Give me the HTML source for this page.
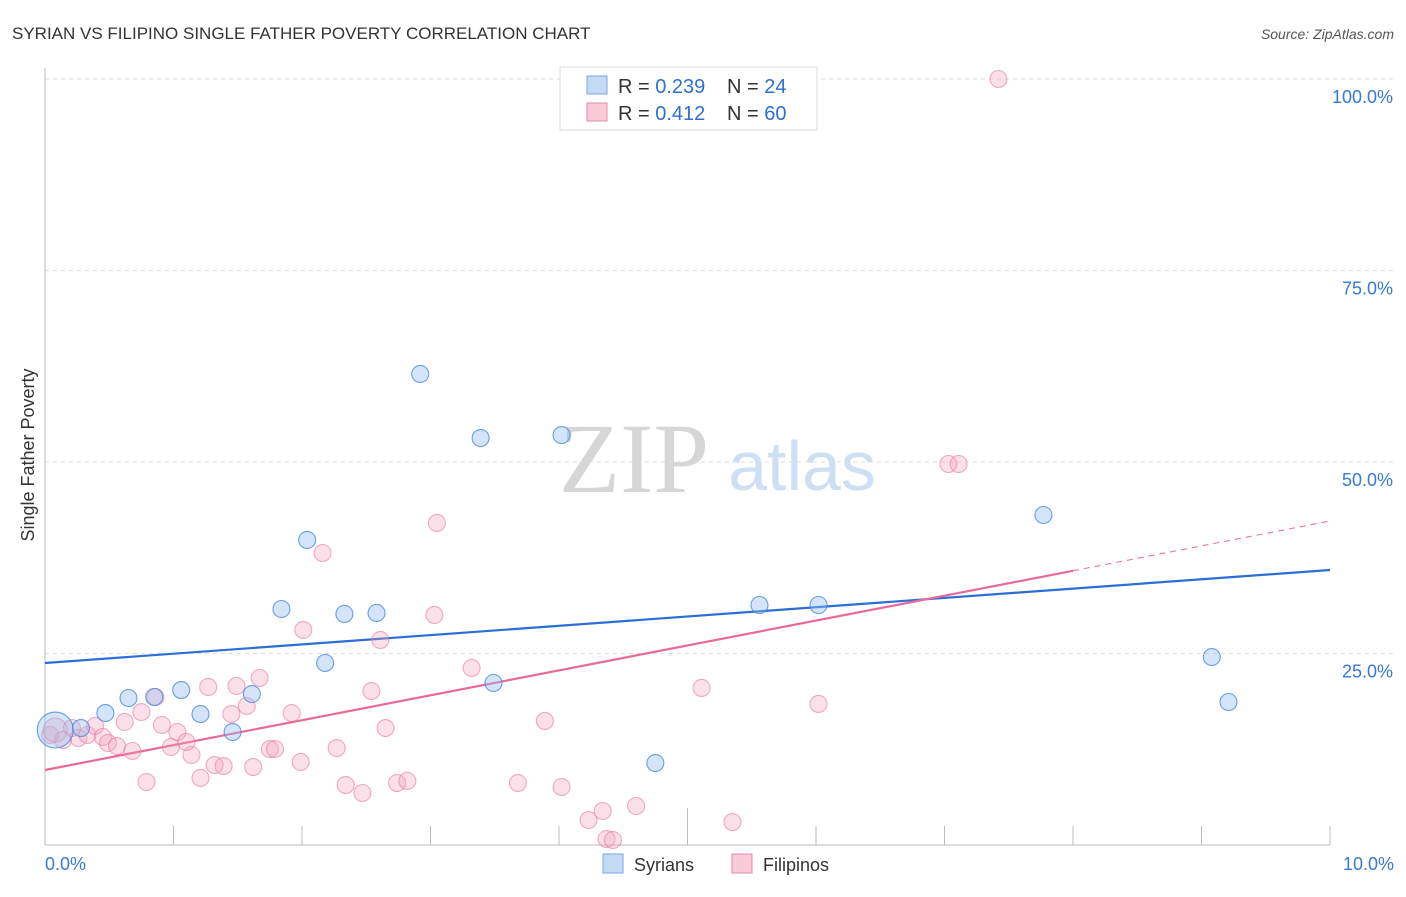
<!DOCTYPE html>
<html><head><meta charset="utf-8"><style>
body{margin:0;background:#fff;font-family:"Liberation Sans",sans-serif;}
</style></head><body>
<svg width="1406" height="892" viewBox="0 0 1406 892" id="chart" font-family="Liberation Sans, sans-serif">
<text x="12" y="39" font-size="17" fill="#333">SYRIAN VS FILIPINO SINGLE FATHER POVERTY CORRELATION CHART</text>
<text x="1394" y="39" font-size="14" fill="#555" font-style="italic" text-anchor="end">Source: ZipAtlas.com</text>
<text x="634" y="492" font-size="100" fill="#d6d6d6" style="font-family:'Liberation Serif',serif" text-anchor="middle">ZIP</text>
<text x="802" y="490" font-size="70" fill="#cfdff3" text-anchor="middle">atlas</text>
<text transform="translate(34,455) rotate(-90)" font-size="18" fill="#333" text-anchor="middle">Single Father Poverty</text>
<g id="grid"></g><g id="axes"></g><g id="trend"></g><g id="pts"></g>
<g>
<rect x="560" y="67" width="257" height="63" fill="#fff" stroke="#ddd"/>
<rect x="587" y="76" width="20" height="18" fill="#c5daf5" stroke="#7aa6e0"/>
<text x="618" y="93" font-size="20" fill="#333">R = <tspan fill="#2f6fd0">0.239</tspan></text>
<text x="727" y="93" font-size="20" fill="#333">N = <tspan fill="#2f6fd0">24</tspan></text>
<rect x="587" y="103" width="20" height="18" fill="#f9cad8" stroke="#e88aa8"/>
<text x="618" y="120" font-size="20" fill="#333">R = <tspan fill="#2f6fd0">0.412</tspan></text>
<text x="727" y="120" font-size="20" fill="#333">N = <tspan fill="#2f6fd0">60</tspan></text>
</g>
<g>
<rect x="603" y="854" width="20" height="19" fill="#c5daf5" stroke="#7aa6e0"/>
<text x="634" y="871" font-size="18" fill="#333">Syrians</text>
<rect x="732" y="854" width="20" height="19" fill="#f9cad8" stroke="#e88aa8"/>
<text x="763" y="871" font-size="18" fill="#333">Filipinos</text>
</g>
</svg>
<script>
const yTicks=[25,50,75,100];
const yTickLabels=["25.0%","50.0%","75.0%","100.0%"];
const xTickLabels=["0.0%","10.0%"];
const syrX=[0.08,0.28,0.47,0.65,0.85,1.06,1.21,1.46,1.61,1.84,2.04,2.18,2.33,2.58,2.92,3.39,3.49,4.02,4.75,5.56,6.02,7.77,9.08,9.21];
const syrY=[15.01,15.27,17.23,19.19,19.32,20.23,17.10,14.75,19.71,30.81,39.82,23.76,30.16,30.29,61.49,53.13,21.15,53.52,10.70,31.33,31.33,43.08,24.54,18.67];
const filX=[0.04,0.08,0.14,0.21,0.26,0.33,0.39,0.45,0.49,0.56,0.62,0.68,0.75,0.79,0.86,0.91,0.98,1.03,1.10,1.14,1.21,1.27,1.32,1.39,1.45,1.49,1.57,1.62,1.67,1.75,1.79,1.92,1.99,2.01,2.16,2.27,2.34,2.47,2.54,2.61,2.65,2.74,2.82,3.03,3.05,3.32,3.68,3.89,4.02,4.23,4.34,4.37,4.42,4.60,5.11,5.35,6.02,7.03,7.11,7.42];
const filY=[14.36,15.01,13.71,15.27,13.97,14.36,15.54,14.10,13.32,12.92,16.06,12.27,17.36,8.22,19.32,15.67,12.79,14.75,13.45,11.75,8.75,20.63,10.44,10.31,17.10,20.76,18.15,10.18,21.80,12.53,12.53,17.23,10.84,28.07,38.12,12.66,7.83,6.79,20.10,26.76,15.27,8.09,8.36,30.03,42.04,23.11,8.09,16.19,7.57,3.26,4.44,0.78,0.65,5.09,20.50,3.00,18.41,49.74,49.74,100.0];
const syrTrend=[23.76,35.9];
const filTrend=[9.79,42.3];
const NS="http://www.w3.org/2000/svg";
const sx=v=>45+v*128.5, sy=v=>845-v*7.66;
function mk(tag,attrs,parent){const e=document.createElementNS(NS,tag);for(const k in attrs)e.setAttribute(k,attrs[k]);document.getElementById(parent).appendChild(e);return e;}
yTicks.forEach((t,i)=>{
 const g=mk('line',{x1:45,x2:1394,y1:sy(t),y2:sy(t),stroke:'#ddd','stroke-dasharray':'4,4'},'grid');
 
 
 const l=mk('text',{x:1393,y:sy(t)+24,'font-size':18,fill:'#3a78d4','text-anchor':'end'},'grid');
 l.textContent=yTickLabels[i];
 
 
});
let a=mk('line',{x1:45,x2:45,y1:68,y2:845,stroke:'#bbb'},'axes');


a=mk('line',{x1:45,x2:1330,y1:845,y2:845,stroke:'#bbb'},'axes');


for(let i=1;i<=10;i++){
 const t=mk('line',{x1:sx(i),x2:sx(i),y1:i==5?808:826,y2:845,stroke:'#bbb'},'axes');
 
 
}
[[0,'start',45],[10,'end',1394]].forEach((p,i)=>{
 const l=mk('text',{x:p[2],y:870,'font-size':18,fill:'#3a78d4','text-anchor':p[1]},'axes');
 l.textContent=xTickLabels[i];
 
 
});
function pt(x,y,r,fill,stroke,name){
 const c=mk('circle',{cx:sx(x),cy:sy(y),r:r,fill:fill,stroke:stroke,'stroke-width':1.1},'pts');
 
 
}
filX.forEach((x,i)=>pt(x,filY[i],i==1?12:8.5,'rgba(244,160,188,0.32)','rgba(232,120,160,0.6)','filipino-point'));
syrX.forEach((x,i)=>pt(x,syrY[i],i==0?18:8.5,'rgba(150,190,240,0.4)','rgba(60,130,220,0.75)','syrian-point'));
let tl=mk('line',{x1:sx(0),y1:sy(syrTrend[0]),x2:sx(10),y2:sy(syrTrend[1]),stroke:'#2b6fd6','stroke-width':2.2},'trend');


const fy=x=>filTrend[0]+(filTrend[1]-filTrend[0])*x/10;
tl=mk('line',{x1:sx(0),y1:sy(fy(0)),x2:sx(8),y2:sy(fy(8)),stroke:'#e8699a','stroke-width':2.2},'trend');


tl=mk('line',{x1:sx(8),y1:sy(fy(8)),x2:sx(10),y2:sy(fy(10)),stroke:'#e8699a','stroke-width':1,'stroke-dasharray':'6,5'},'trend');


</script>
</body></html>
